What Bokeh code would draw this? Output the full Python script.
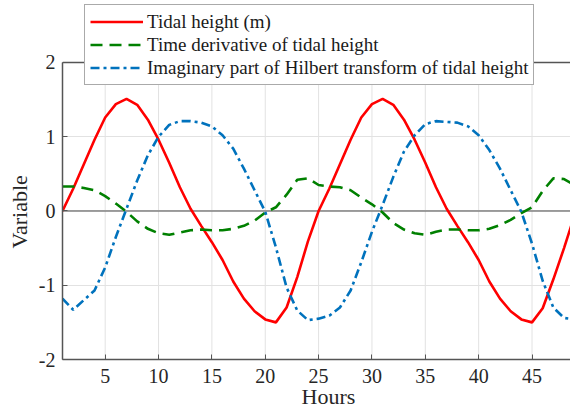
import math
from bokeh.plotting import figure
from bokeh.models import Range1d, FixedTicker, Span, Legend, LegendItem, Title
from bokeh.embed import file_html
from bokeh.resources import INLINE

hours = list(range(1, 50))

tidal_height = [0.0, 0.3, 0.63, 0.96, 1.26, 1.44, 1.51, 1.43, 1.23, 0.96, 0.65, 0.32,
                0.03, -0.2, -0.42, -0.66, -0.95, -1.18, -1.35, -1.46, -1.5, -1.3, -0.89, -0.41,
                0.0, 0.3, 0.63, 0.96, 1.26, 1.44, 1.51, 1.43, 1.23, 0.96, 0.65, 0.32,
                0.03, -0.2, -0.42, -0.66, -0.95, -1.18, -1.35, -1.46, -1.5, -1.31, -0.92, -0.5, -0.05]

time_derivative = [0.33, 0.33, 0.31, 0.28, 0.2, 0.1, -0.01, -0.14, -0.24, -0.3, -0.32, -0.29,
                   -0.26, -0.25, -0.26, -0.26, -0.24, -0.2, -0.13, -0.02, 0.05, 0.22, 0.42, 0.44,
                   0.35, 0.33, 0.32, 0.28, 0.18, 0.09, -0.02, -0.16, -0.25, -0.3, -0.32, -0.28,
                   -0.25, -0.25, -0.26, -0.26, -0.24, -0.19, -0.12, -0.03, 0.05, 0.27, 0.44, 0.43, 0.35]

hilbert_imag = [-1.18, -1.33, -1.2, -1.07, -0.76, -0.35, 0.03, 0.41, 0.75, 1.0, 1.16, 1.21,
                1.21, 1.19, 1.14, 1.02, 0.84, 0.57, 0.28, -0.01, -0.49, -1.03, -1.34, -1.47,
                -1.45, -1.41, -1.3, -1.07, -0.69, -0.28, 0.08, 0.46, 0.8, 1.02, 1.17, 1.21,
                1.2, 1.19, 1.14, 1.02, 0.82, 0.57, 0.28, -0.01, -0.44, -0.94, -1.3, -1.44, -1.46]

x_ticks = [5, 10, 15, 20, 25, 30, 35, 40, 45]
y_ticks = [-2, -1, 0, 1, 2]

series_labels = ["Tidal height (m)",
                 "Time derivative of tidal height",
                 "Imaginary part of Hilbert transform of tidal height"]
x_title = "Hours"
y_title = "Variable"

FONT = "Liberation Serif"
AX = "#555555"
TXT = "#262626"

# frame extends above y=2 so that the legend (which overlaps the top edge) is not clipped
p = figure(frame_width=509, frame_height=359,
           min_border_left=61, min_border_right=0, min_border_top=0, min_border_bottom=57,
           x_range=Range1d(1, 48.7), y_range=Range1d(-2, 2.835),
           output_backend="svg", toolbar_location=None)
p.outline_line_color = None
p.background_fill_color = "white"
p.border_fill_color = "white"

for ax in (p.xaxis[0], p.yaxis[0]):
    ax.axis_line_color = AX
    ax.axis_line_width = 1.5
    ax.major_tick_in = 5
    ax.major_tick_out = 0
    ax.minor_tick_in = 0
    ax.minor_tick_out = 0
    ax.major_tick_line_color = AX
    ax.major_tick_line_width = 1
    ax.major_label_text_font = FONT
    ax.major_label_text_font_size = "20px"
    ax.major_label_text_color = TXT
p.xaxis[0].ticker = FixedTicker(ticks=x_ticks)
p.yaxis[0].ticker = FixedTicker(ticks=y_ticks)
p.yaxis[0].bounds = (y_ticks[0], y_ticks[-1])
p.yaxis[0].major_label_overrides = {t: str(t) for t in y_ticks}
p.xaxis[0].major_label_standoff = 9
p.yaxis[0].major_label_standoff = 7

p.xgrid[0].visible = False
p.ygrid[0].ticker = FixedTicker(ticks=y_ticks)
p.ygrid[0].grid_line_color = "#e2e2e2"
p.ygrid[0].grid_line_width = 1
# vertical grid lines limited to the axes box
p.segment(x0=x_ticks, x1=x_ticks, y0=[y_ticks[0]] * len(x_ticks), y1=[y_ticks[-1]] * len(x_ticks),
          line_color="#e2e2e2", line_width=1, level="underlay")

p.add_layout(Span(location=0, dimension="width", line_color="#808080",
                  line_width=1.5, level="underlay"))
p.add_layout(Span(location=y_ticks[-1], dimension="width", line_color=AX,
                  line_width=1.5))

r1 = p.line(hours, tidal_height, line_color="#ff0000", line_width=2.6)
r2 = p.line(hours, time_derivative, line_color="#008000", line_width=2.6,
            line_dash="12 7")
r3 = p.line(hours, hilbert_imag, line_color="#0072bd", line_width=2.6,
            line_dash="9 4 3 4")

ty = Title(text=y_title, align="left", offset=111, standoff=8,
           text_font=FONT, text_font_size="22px", text_font_style="normal", text_color=TXT)
p.add_layout(ty, "left")
tx = Title(text=x_title, align="left", offset=239, standoff=-8,
           text_font=FONT, text_font_size="22px", text_font_style="normal", text_color=TXT)
p.add_layout(tx, "below")

legend = Legend(items=[LegendItem(label=series_labels[0], renderers=[r1]),
                       LegendItem(label=series_labels[1], renderers=[r2]),
                       LegendItem(label=series_labels[2], renderers=[r3])],
                location=(22, 274))
legend.border_line_color = AX
legend.border_line_width = 1.5
legend.background_fill_color = "white"
legend.background_fill_alpha = 1.0
legend.label_text_font = FONT
legend.label_text_font_size = "19px"
legend.label_text_color = "#1a1a1a"
legend.glyph_width = 53
legend.glyph_height = 23
legend.label_height = 23
legend.label_standoff = 4
legend.padding = 5
legend.spacing = 0
legend.margin = 0
p.add_layout(legend, "center")

open("out.html", "w").write(file_html(p, INLINE))
